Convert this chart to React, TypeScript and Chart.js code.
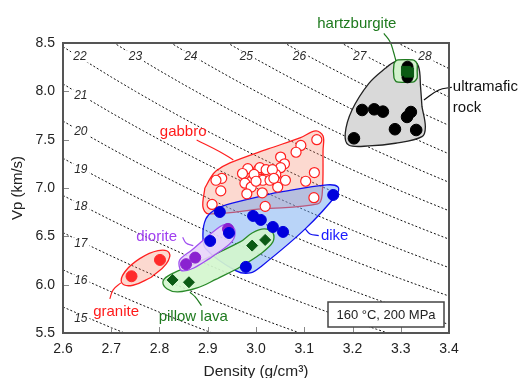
import { useEffect, useRef } from "react";
import { Chart, registerables } from "chart.js";
Chart.register(...registerables);

const FONT = '"Liberation Sans", Arial, Helvetica, sans-serif';

// Iso-impedance reference lines (Z = density x Vp)
const ISO_IMPEDANCE = [15, 16, 17, 18, 19, 20, 21, 22, 23, 24, 25, 26, 27, 28];
const ISO_DENSITY = [2.6, 2.65, 2.7, 2.75, 2.8, 2.85, 2.9, 2.95, 3.0, 3.05, 3.1, 3.15, 3.2, 3.25, 3.3, 3.35, 3.4];
const TOP_LABEL_Z = [22, 23, 24, 25, 26, 27, 28];
const TOP_LABEL_RHO = [2.635, 2.75, 2.865, 2.98, 3.09, 3.215, 3.35];
const TOP_LABEL_VP = 8.36;
const LEFT_LABEL_Z = [21, 20, 19, 18, 17, 16, 15];
const LEFT_LABEL_VP = [7.952, 7.58, 7.187, 6.804, 6.421, 6.039, 5.646];
const LEFT_LABEL_RHO = 2.637;

// Samples [density, Vp]
const GRANITE = [[2.742, 6.087], [2.801, 6.256]];
const DIORITE = [[2.855, 6.212], [2.874, 6.28], [2.942, 6.577]];
const PILLOW_LAVA = [[2.827, 6.049], [2.861, 6.025], [2.992, 6.404], [3.019, 6.463]];
const DIKE = [[2.925, 6.752], [2.994, 6.711], [3.01, 6.67], [3.035, 6.597], [3.056, 6.546], [3.16, 6.928], [2.905, 6.452], [2.944, 6.535], [2.979, 6.184]];
const GABBRO = [
  [3.126, 7.5], [3.093, 7.44], [3.083, 7.37], [3.051, 7.32], [3.059, 7.25], [3.051, 7.21], [3.121, 7.16],
  [3.103, 7.07], [3.061, 7.08], [3.045, 7.01], [3.041, 7.14], [3.013, 7.19], [3.005, 7.19], [2.983, 7.2],
  [2.972, 7.15], [2.992, 7.08], [3.014, 7.08], [3.029, 7.08], [2.977, 7.05], [2.99, 7.01], [2.981, 6.94],
  [3.013, 6.95], [2.929, 7.1], [2.917, 7.08], [2.927, 6.97], [2.909, 6.83], [3.019, 6.81], [3.12, 6.9],
  [3.008, 7.21], [3.021, 7.19], [3.034, 7.19], [3.037, 7.1], [2.996, 7.14], [3.0, 7.07],
];
const ULTRAMAFIC = [[3.22, 7.807], [3.245, 7.814], [3.263, 7.79], [3.313, 7.735], [3.321, 7.786], [3.288, 7.608], [3.332, 7.6], [3.203, 7.514]];
const HARTZ_BLACK = [[3.314, 8.255], [3.314, 8.145]];
const HARTZ_GREEN = [[3.311, 8.21], [3.317, 8.195]];

// Field outlines [density, Vp]
const GABBRO_FIELD = [[2.894, 7.0], [2.907, 7.114], [2.917, 7.176], [2.946, 7.259], [3.025, 7.404], [3.091, 7.518], [3.124, 7.59], [3.139, 7.538], [3.139, 7.393], [3.137, 6.928], [3.128, 6.835], [3.012, 6.783], [2.901, 6.732], [2.89, 6.804], [2.894, 7.0]];
const DIKE_FIELD = [[3.039, 6.949], [3.147, 7.032], [3.17, 7.011], [3.168, 6.938], [3.102, 6.577], [3.012, 6.194], [2.988, 6.121], [2.959, 6.142], [2.896, 6.37], [2.89, 6.525], [2.896, 6.68], [2.911, 6.763], [2.938, 6.825], [3.039, 6.949]];
const PILLOW_FIELD = [[2.919, 6.059], [2.967, 6.183], [3.012, 6.328], [3.035, 6.442], [3.035, 6.535], [3.017, 6.577], [2.992, 6.535], [2.967, 6.442], [2.863, 6.194], [2.818, 6.091], [2.807, 6.028], [2.816, 5.956], [2.838, 5.925], [2.878, 5.966], [2.919, 6.059]];
const DIORITE_FIELD = [[2.905, 6.274], [2.87, 6.17], [2.849, 6.142], [2.842, 6.17], [2.842, 6.256], [2.867, 6.359], [2.925, 6.6], [2.943, 6.625], [2.956, 6.566], [2.95, 6.445], [2.905, 6.274]];
const GRANITE_FIELD = [[2.783, 6.077], [2.745, 5.994], [2.722, 6.017], [2.728, 6.131], [2.759, 6.269], [2.797, 6.352], [2.82, 6.329], [2.814, 6.216], [2.783, 6.077]];
const ULTRAMAFIC_FIELD = [[3.344, 7.841], [3.351, 7.634], [3.344, 7.531], [3.289, 7.463], [3.234, 7.435], [3.192, 7.445], [3.185, 7.566], [3.199, 7.807], [3.234, 8.083], [3.268, 8.238], [3.289, 8.307], [3.323, 8.324], [3.337, 8.255], [3.341, 8.048], [3.344, 7.841]];
const HARTZ_FIELD = [[3.334, 8.21], [3.334, 8.138], [3.327, 8.097], [3.292, 8.097], [3.286, 8.138], [3.286, 8.283], [3.292, 8.324], [3.327, 8.324], [3.334, 8.283], [3.334, 8.21]];

// Leader lines
const GRANITE_LEADER = [[2.697, 5.853], [2.704, 5.946], [2.72, 6.018]];
const PILLOW_LEADER = [[2.863, 5.922], [2.874, 5.873], [2.887, 5.783]];
const DIORITE_LEADER = [[2.848, 6.491], [2.855, 6.432], [2.87, 6.404]];
const DIKE_LEADER = [[3.102, 6.577], [3.112, 6.525], [3.13, 6.507]];
const GABBRO_LEADER = [[2.877, 7.497], [2.925, 7.376], [2.953, 7.29]];
const HARTZ_LEADER = [[3.265, 8.6], [3.278, 8.51], [3.285, 8.407], [3.29, 8.314]];
const ULTRA_LEADER = [[3.348, 7.911], [3.379, 8.014], [3.406, 8.042]];

// Field labels
const FIELD_LABELS = [
  { text: "granite", rho: 2.71, vp: 5.718, color: "#ff1a1a", align: "center" },
  { text: "pillow lava", rho: 2.87, vp: 5.666, color: "#1e7a1e", align: "center" },
  { text: "diorite", rho: 2.794, vp: 6.497, color: "#a040f0", align: "center" },
  { text: "dike", rho: 3.163, vp: 6.507, color: "#1a1aff", align: "center" },
  { text: "gabbro", rho: 2.849, vp: 7.583, color: "#ff1a1a", align: "center" },
  { text: "hartzburgite", rho: 3.209, vp: 8.7, color: "#1e7a1e", align: "center" },
  { text: "ultramafic", rho: 3.408, vp: 8.045, color: "#111", align: "left" },
  { text: "rock", rho: 3.408, vp: 7.828, color: "#111", align: "left" },
];
const CONDITION_TEXT = "160 °C, 200 MPa";

const X_MIN = 2.6, X_MAX = 3.4, X_STEP = 0.1;
const Y_MIN = 5.5, Y_MAX = 8.5, Y_STEP = 0.5;

const pts = (a: number[][]) => a.map(([x, y]) => ({ x, y }));

function field(data: number[][], border: string, fill: string, order: number, tension = 0.35) {
  return {
    data: pts(data), showLine: true, fill: "shape", tension, borderColor: border,
    backgroundColor: fill, borderWidth: 1.3, pointRadius: 0, order,
  };
}
function leader(data: number[][], color: string, extra: any = {}) {
  return {
    data: pts(data), showLine: true, fill: false, tension: 0.4, borderColor: color,
    borderWidth: 1.2, pointRadius: 0, order: 30, ...extra,
  };
}
function dots(data: number[][], bg: string, border: string, radius: number, order: number, style = "circle", bw = 1) {
  return {
    data: pts(data), showLine: false, pointRadius: radius, pointStyle: style,
    pointBackgroundColor: bg, pointBorderColor: border, pointBorderWidth: bw, order,
  };
}

const overlay = {
  id: "overlay",
  afterDatasetDraw(chart: any, args: any) {
    if (args.index !== 0) return;
    const { ctx, scales: { x, y } } = chart;
    ctx.save();
    ctx.font = `italic 12px ${FONT}`;
    ctx.textAlign = "center";
    ctx.textBaseline = "middle";
    const draw = (t: string, px: number, py: number) => {
      const w = ctx.measureText(t).width + 4;
      ctx.fillStyle = "#fff";
      ctx.fillRect(px - w / 2, py - 6, w, 12);
      ctx.fillStyle = "#2a2a2a";
      ctx.fillText(t, px, py);
    };
    TOP_LABEL_Z.forEach((z, i) => draw(String(z), x.getPixelForValue(TOP_LABEL_RHO[i]), y.getPixelForValue(TOP_LABEL_VP)));
    LEFT_LABEL_Z.forEach((z, i) => draw(String(z), x.getPixelForValue(LEFT_LABEL_RHO), y.getPixelForValue(LEFT_LABEL_VP[i])));
    ctx.restore();
  },
  afterDraw(chart: any) {
    const { ctx, chartArea: a, scales: { x, y } } = chart;
    ctx.save();
    // inward ticks
    ctx.strokeStyle = "#888";
    ctx.lineWidth = 1;
    ctx.beginPath();
    x.ticks.forEach((t: any) => {
      const px = Math.round(x.getPixelForValue(t.value)) + 0.5;
      ctx.moveTo(px, a.bottom); ctx.lineTo(px, a.bottom - 6);
    });
    y.ticks.forEach((t: any) => {
      const py = Math.round(y.getPixelForValue(t.value)) + 0.5;
      ctx.moveTo(a.left, py); ctx.lineTo(a.left + 6, py);
    });
    ctx.stroke();
    // frame
    ctx.strokeStyle = "#555";
    ctx.lineWidth = 2;
    ctx.strokeRect(a.left, a.top, a.right - a.left, a.bottom - a.top);
    // field labels
    ctx.font = `15px ${FONT}`;
    ctx.textBaseline = "middle";
    FIELD_LABELS.forEach((l) => {
      ctx.fillStyle = l.color;
      ctx.textAlign = l.align;
      ctx.fillText(l.text, x.getPixelForValue(l.rho), y.getPixelForValue(l.vp));
    });
    // condition box
    const bw = 116, bh = 25;
    const bx = a.right - 5 - bw, by = a.bottom - 6 - bh;
    ctx.fillStyle = "#fff";
    ctx.fillRect(bx, by, bw, bh);
    ctx.strokeStyle = "#444";
    ctx.lineWidth = 1.5;
    ctx.strokeRect(bx, by, bw, bh);
    ctx.fillStyle = "#222";
    ctx.font = `13px ${FONT}`;
    ctx.textAlign = "center";
    ctx.fillText(CONDITION_TEXT, bx + bw / 2, by + bh / 2 + 1);
    ctx.restore();
  },
};

export default function App() {
  const ref = useRef<HTMLCanvasElement | null>(null);
  useEffect(() => {
    document.body.style.margin = "0";
    const iso = ISO_IMPEDANCE.map((z, k) => ({
      data: ISO_DENSITY.map((r) => ({ x: r, y: z / r })),
      showLine: true, fill: false, tension: 0, borderColor: "#111", borderWidth: 1,
      borderDash: [2, 2], pointRadius: 0, order: 100 + k,
    }));
    const datasets: any[] = [
      ...iso,
      field(GABBRO_FIELD, "#ff2020", "rgba(246,130,100,0.3)", 60),
      field(DIKE_FIELD, "#1010ee", "rgba(100,160,240,0.45)", 55),
      field(PILLOW_FIELD, "#2a8a2a", "rgba(212,246,206,0.92)", 50),
      field(DIORITE_FIELD, "#a050f0", "rgba(232,212,250,0.9)", 45),
      field(GRANITE_FIELD, "#ff2020", "rgba(246,130,100,0.3)", 45, 0.4),
      field(ULTRAMAFIC_FIELD, "#222", "#d9d9d9", 45),
      field(HARTZ_FIELD, "#1e7a1e", "#d2f2cc", 40, 0.2),
      leader(GRANITE_LEADER, "#ff2020"),
      leader(PILLOW_LEADER, "#1e7a1e"),
      leader(DIORITE_LEADER, "#a050f0"),
      leader(DIKE_LEADER, "#1010ee"),
      leader(GABBRO_LEADER, "#ff2020"),
      leader(HARTZ_LEADER, "#1e7a1e", { clip: false, capBezierPoints: false }),
      leader(ULTRA_LEADER, "#111", { clip: false, capBezierPoints: false }),
      dots(GABBRO, "#fff", "#ff2020", 5, 20, "circle", 1.2),
      dots(DIORITE, "#8a22d0", "#8a22d0", 5.5, 16),
      dots(DIKE, "#0000dd", "#0000dd", 5.5, 15),
      dots(PILLOW_LAVA, "#0b5a14", "#0b5a14", 5.5, 15, "rectRot"),
      dots(GRANITE, "#ff2a2a", "#ff2a2a", 5.5, 15),
      dots(ULTRAMAFIC, "#000", "#000", 5.8, 15),
      dots(HARTZ_BLACK, "#000", "#000", 5.5, 12),
      dots(HARTZ_GREEN, "#0b5a14", "#0b5a14", 6.5, 10, "rect"),
    ];
    const chart = new Chart(ref.current as HTMLCanvasElement, {
      type: "scatter",
      data: { datasets },
      options: {
        animation: false,
        responsive: false,
        events: [],
        layout: { padding: { top: 43, right: 75, left: 0, bottom: 0 } },
        plugins: { legend: { display: false }, tooltip: { enabled: false } },
        scales: {
          x: {
            type: "linear", min: X_MIN, max: X_MAX,
            ticks: { stepSize: X_STEP, padding: 8, color: "#222", font: { size: 14, family: FONT }, callback: (v: any) => Number(v).toFixed(1) },
            grid: { display: false, drawTicks: false },
            border: { display: false },
            title: { display: true, text: "Density (g/cm³)", color: "#222", font: { size: 15.5, family: FONT, lineHeight: 1 }, padding: { top: 0, bottom: -1 } },
            afterFit: (s: any) => { s.height = 45; },
          },
          y: {
            type: "linear", min: Y_MIN, max: Y_MAX,
            ticks: { stepSize: Y_STEP, padding: 8, color: "#222", font: { size: 14, family: FONT }, callback: (v: any) => Number(v).toFixed(1) },
            grid: { display: false, drawTicks: false },
            border: { display: false },
            title: { display: true, text: "Vp (km/s)", color: "#222", font: { size: 15, family: FONT, lineHeight: 1 }, padding: { top: 10, bottom: 0 } },
            afterFit: (s: any) => { s.width = 63; },
          },
        },
      },
      plugins: [overlay],
    } as any);
    return () => chart.destroy();
  }, []);
  return <canvas ref={ref} width={524} height={378} style={{ display: "block" }} />;
}
